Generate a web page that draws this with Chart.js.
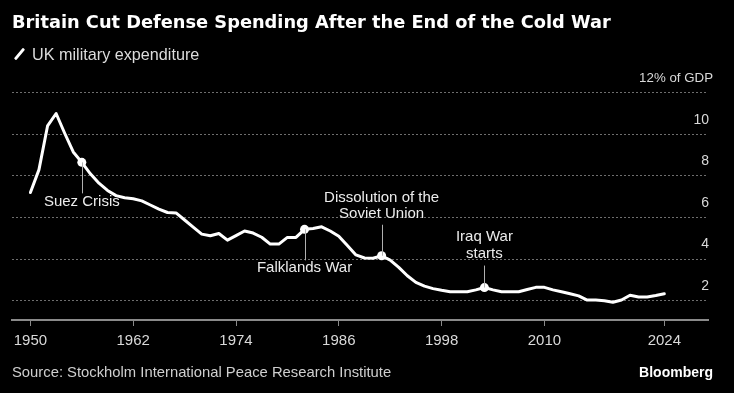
<!DOCTYPE html>
<html>
<head>
<meta charset="utf-8">
<script src="https://cdn.jsdelivr.net/npm/chart.js@4.4.0/dist/chart.umd.min.js"></script>
<style>
  html, body { margin: 0; padding: 0; background: #000; }
  #wrap { position: relative; width: 734px; height: 393px; overflow: hidden; }
  #chart { position: absolute; left: 0; top: 0; }
  .txt { position: absolute; white-space: nowrap; }
  #title { left: 12px; top: 10px; font: bold 17.8px "DejaVu Sans"; color: #fff; line-height: 24px; }
  #legend { left: 32px; top: 44px; font: 16.2px "Liberation Sans"; color: #dcdcdc; line-height: 20px; }
  #legend-icon { position: absolute; left: 18px; top: 47px; width: 3px; height: 14px; background: #fff; transform: rotate(40deg); border-radius: 1px; }
  #source { left: 12px; top: 363px; font: 14.8px "Liberation Sans"; color: #cfcfcf; line-height: 18px; }
  #brand { right: 21px; top: 363px; font: bold 14px "Liberation Sans"; color: #fff; line-height: 18px; }
</style>
</head>
<body>
<div id="wrap">
  <canvas id="chart" width="734" height="393"></canvas>
  <div class="txt" id="title">Britain Cut Defense Spending After the End of the Cold War</div>
  <div id="legend-icon"></div>
  <div class="txt" id="legend">UK military expenditure</div>
  <div class="txt" id="source">Source: Stockholm International Peace Research Institute</div>
  <div class="txt" id="brand">Bloomberg</div>
</div>
<script>
// UK military expenditure, % of GDP
var years = [
  1950, 1951, 1952, 1953, 1954, 1955, 1956, 1957, 1958, 1959,
  1960, 1961, 1962, 1963, 1964, 1965, 1966, 1967, 1968, 1969,
  1970, 1971, 1972, 1973, 1974, 1975, 1976, 1977, 1978, 1979,
  1980, 1981, 1982, 1983, 1984, 1985, 1986, 1987, 1988, 1989,
  1990, 1991, 1992, 1993, 1994, 1995, 1996, 1997, 1998, 1999,
  2000, 2001, 2002, 2003, 2004, 2005, 2006, 2007, 2008, 2009,
  2010, 2011, 2012, 2013, 2014, 2015, 2016, 2017, 2018, 2019,
  2020, 2021, 2022, 2023, 2024
];
var spending = [
  7.2, 8.3, 10.4, 11.0, 10.05, 9.15, 8.65, 8.1, 7.65, 7.3,
  7.05, 6.95, 6.9, 6.8, 6.6, 6.4, 6.24, 6.22, 5.88, 5.54,
  5.2, 5.12, 5.23, 4.91, 5.13, 5.35, 5.25, 5.05, 4.72, 4.72,
  5.04, 5.04, 5.43, 5.47, 5.55, 5.35, 5.1, 4.65, 4.2, 4.05,
  4.04, 4.16, 3.95, 3.6, 3.2, 2.88, 2.7, 2.58, 2.5, 2.43,
  2.43, 2.43, 2.52, 2.63, 2.52, 2.43, 2.43, 2.43, 2.54, 2.64,
  2.64, 2.52, 2.43, 2.33, 2.23, 2.03, 2.03, 2.0, 1.92, 2.03,
  2.26, 2.18, 2.18, 2.25, 2.33
];
var xTicks = [1950, 1962, 1974, 1986, 1998, 2010, 2024];
var yTicks = [2, 4, 6, 8, 10, 12];

// events marked on the line
var eventYears = [1956, 1982, 1991, 2003];
var eventLabels = [['Suez Crisis'], ['Falklands War'], ['Dissolution of the', 'Soviet Union'], ['Iraq War', 'starts']];
// label side: 1 = below the dot, -1 = above
var eventSide = [1, 1, -1, -1];

var FONT = '"Liberation Sans", Arial, sans-serif';

var annotations = {
  id: 'annotations',
  afterDatasetsDraw: function(chart) {
    var ctx = chart.ctx;
    var xs = chart.scales.x, ys = chart.scales.y;
    ctx.save();
    ctx.font = '15px ' + FONT;
    ctx.textAlign = 'center';
    ctx.textBaseline = 'middle';
    for (var i = 0; i < eventYears.length; i++) {
      var k = years.indexOf(eventYears[i]);
      var px = xs.getPixelForValue(eventYears[i]);
      var py = ys.getPixelForValue(spending[k]);
      var lines = eventLabels[i];
      ctx.strokeStyle = '#b0b0b0';
      ctx.lineWidth = 1;
      ctx.beginPath();
      var x0 = Math.round(px) + 0.5;
      if (eventSide[i] > 0) {
        ctx.moveTo(x0, py);
        ctx.lineTo(x0, py + 31);
      } else {
        ctx.moveTo(x0, py);
        ctx.lineTo(x0, py - (i === 2 ? 31 : 22));
      }
      ctx.stroke();
      ctx.fillStyle = '#ececec';
      for (var j = 0; j < lines.length; j++) {
        var ty;
        if (eventSide[i] > 0) {
          ty = py + 39 + j * 16.5;
        } else {
          ty = py - (i === 2 ? 41.5 : 34) - (lines.length - 1 - j) * 16.5;
        }
        ctx.fillText(lines[j], px, ty);
      }
    }
    ctx.restore();
  },
  afterDraw: function(chart) {
    var ctx = chart.ctx;
    var ys = chart.scales.y;
    ctx.save();
    ctx.fillStyle = '#d9d9d9';
    ctx.textAlign = 'right';
    ctx.textBaseline = 'middle';
    yTicks.forEach(function(v) {
      var y = ys.getPixelForValue(v) - 14.5;
      if (v === 12) {
        ctx.font = '13.3px ' + FONT;
        ctx.fillText('12% of GDP', chart.chartArea.right + 5, y);
      } else {
        ctx.font = '14px ' + FONT;
        ctx.fillText(String(v), chart.chartArea.right + 1, y);
      }
    });
    ctx.restore();
  }
};

var points = years.map(function(y, i) { return {x: y, y: spending[i]}; });

new Chart(document.getElementById('chart'), {
  type: 'line',
  data: {
    datasets: [{
      label: 'UK military expenditure',
      data: points,
      borderColor: '#ffffff',
      borderWidth: 3,
      tension: 0,
      borderJoinStyle: 'round',
      borderCapStyle: 'round',
      pointRadius: function(c) {
        return eventYears.indexOf(years[c.dataIndex]) >= 0 ? 4.5 : 0;
      },
      pointBackgroundColor: '#ffffff',
      pointBorderWidth: 0
    }]
  },
  options: {
    responsive: false,
    animation: false,
    layout: {padding: {left: 12, right: 26, top: 92.7, bottom: 0}},
    plugins: {legend: {display: false}, tooltip: {enabled: false}},
    scales: {
      x: {
        type: 'linear',
        min: 1947.85,
        max: 2029.1,
        afterBuildTicks: function(s) { s.ticks = xTicks.map(function(v) { return {value: v}; }); },
        afterFit: function(s) { s.height = 73; },
        grid: {drawOnChartArea: false, drawTicks: true, tickLength: 6, tickColor: '#8a8a8a', tickWidth: 1},
        border: {display: true, color: '#8a8a8a', width: 2},
        ticks: {
          color: '#d9d9d9',
          font: {family: '"Liberation Sans Narrow", ' + FONT, size: 15},
          padding: 6,
          maxRotation: 0,
          autoSkip: false,
          callback: function(v) { return String(v); }
        }
      },
      y: {
        position: 'right',
        min: 1.07,
        max: 12,
        afterBuildTicks: function(s) { s.ticks = yTicks.map(function(v) { return {value: v}; }); },
        afterFit: function(s) { s.width = 0; },
        grid: {color: '#6e6e6e', lineWidth: 1, drawTicks: false},
        border: {display: false, dash: [2, 2]},
        ticks: {display: false}
      }
    }
  },
  plugins: [annotations]
});
</script>
</body>
</html>
